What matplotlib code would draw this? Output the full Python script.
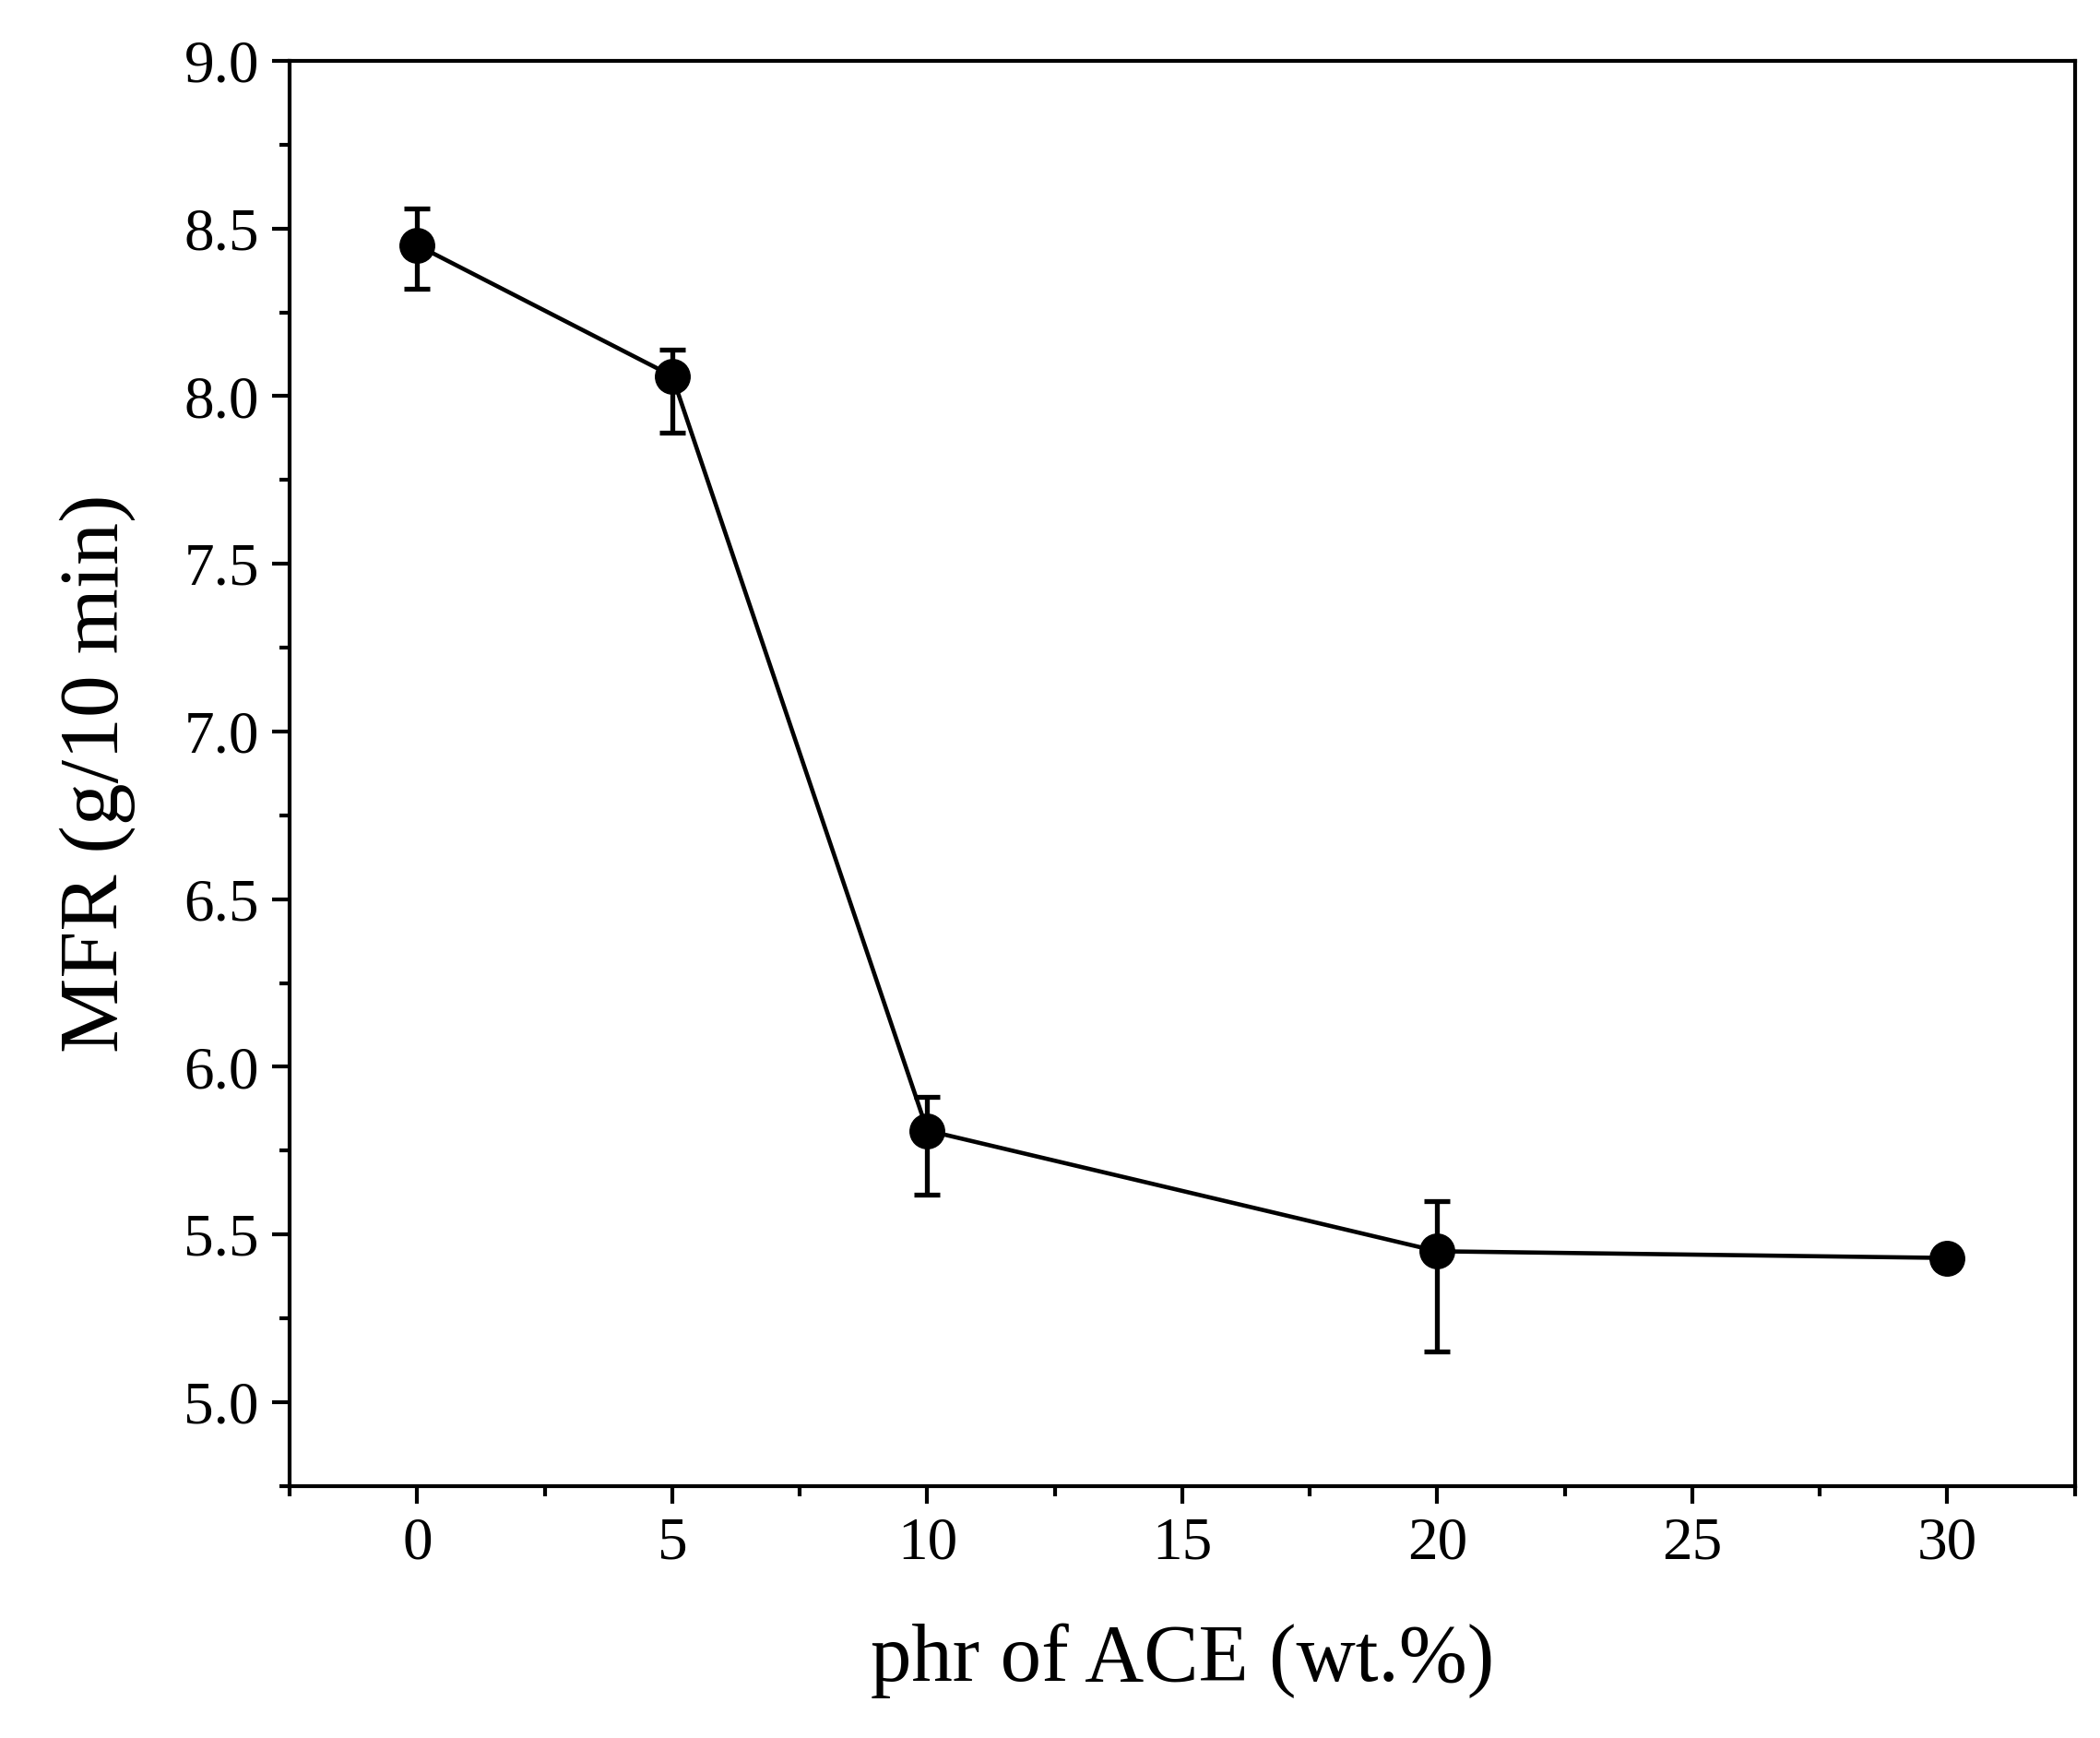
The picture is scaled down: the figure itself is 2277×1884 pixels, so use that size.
import matplotlib.pyplot as plt
from matplotlib.ticker import MultipleLocator

plt.rcParams['font.family'] = ['Liberation Serif', 'DejaVu Serif']

# data
phr = [0, 5, 10, 20, 30]
mfr = [8.45, 8.06, 5.81, 5.45, 5.43]
err_low = [0.13, 0.17, 0.19, 0.30, 0.02]
err_high = [0.11, 0.08, 0.10, 0.15, 0.02]

fig = plt.figure(figsize=(22.77, 18.84), dpi=100)
ax = fig.add_axes([0.138, 0.145, 0.850, 0.820])

ax.errorbar(phr, mfr, yerr=[err_low, err_high], color='black', marker='o',
            markersize=27, linewidth=3.3, elinewidth=3.8, capsize=10, capthick=3.8)

ax.set_xlim(-2.5, 32.5)
ax.set_ylim(4.75, 9.0)
ax.xaxis.set_major_locator(MultipleLocator(5))
ax.xaxis.set_minor_locator(MultipleLocator(2.5))
ax.yaxis.set_minor_locator(MultipleLocator(0.25))
ax.set_yticks([5.0, 5.5, 6.0, 6.5, 7.0, 7.5, 8.0, 8.5, 9.0])
ax.yaxis.set_major_formatter(plt.FormatStrFormatter('%.1f'))

ax.tick_params(which='major', direction='out', length=14, width=3, labelsize=47, pad=10)
ax.tick_params(which='minor', direction='out', length=8, width=3)
for s in ax.spines.values():
    s.set_linewidth(3)

ax.set_xlabel('phr of ACE (wt.%)', fontsize=64, labelpad=40)
ax.set_ylabel('MFR (g/10 min)', fontsize=66, labelpad=38)

fig.savefig('out.png', dpi=100)
